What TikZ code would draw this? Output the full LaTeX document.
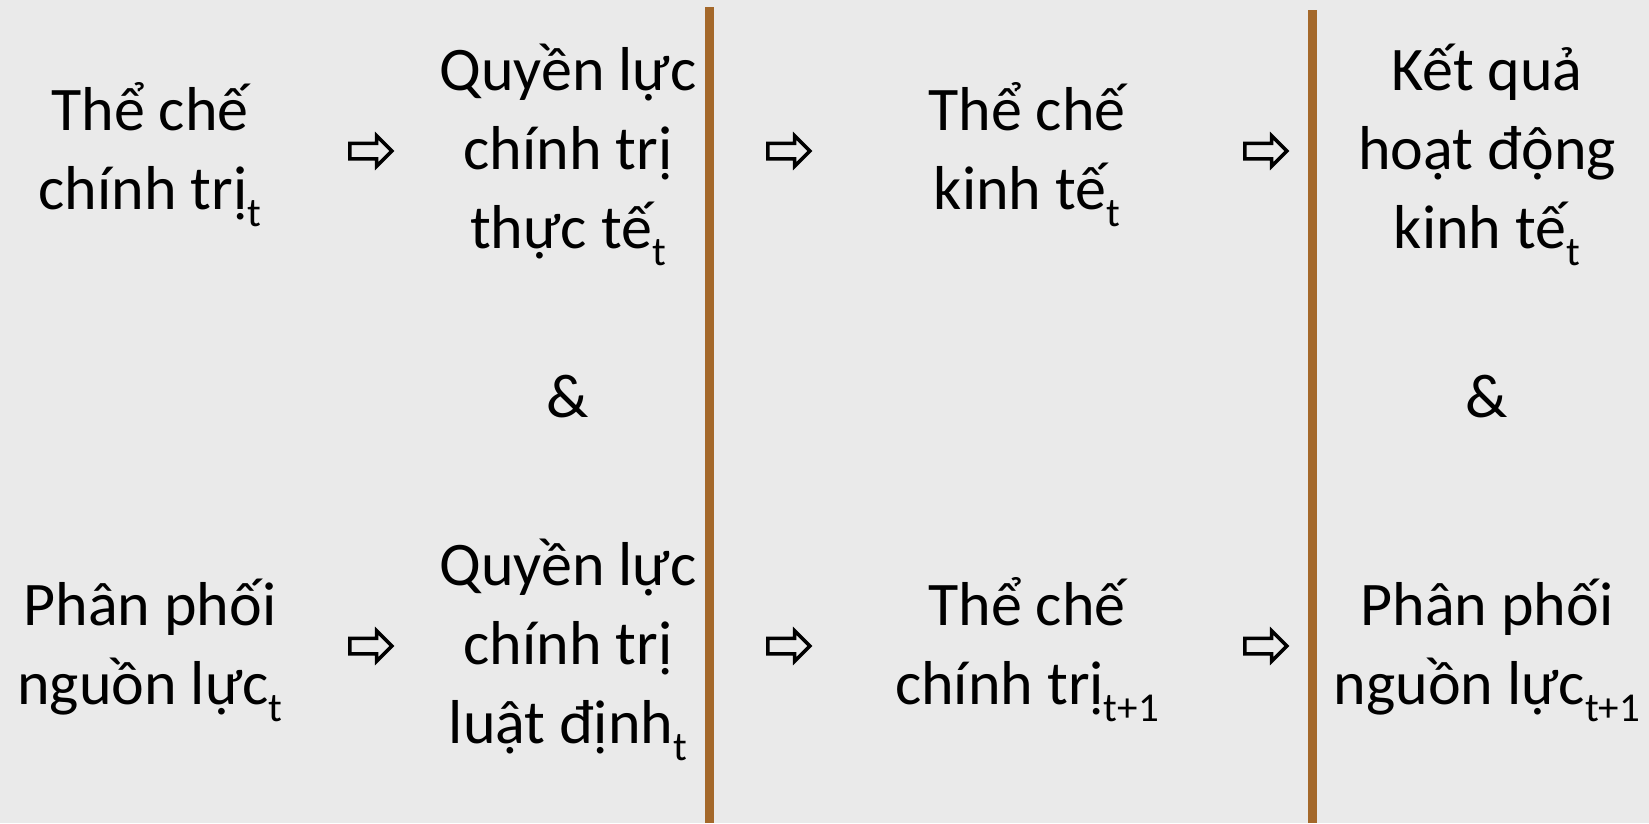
\documentclass[tikz,border=0pt]{standalone}
\usepackage{fontspec}
\setmainfont{Carlito}
\usetikzlibrary{positioning, shapes.arrows}
\definecolor{paper}{HTML}{EAEAEA}
\definecolor{barbrown}{HTML}{A4682A}
\newcommand{\tsub}[1]{\raisebox{-17pt}{\fontsize{41}{41}\selectfont #1}}
\tikzset{
    stage/.style={align=center, font=\fontsize{62}{79}\selectfont, inner sep=0pt},
    flow/.style={single arrow, draw, line width=3.5pt, minimum height=42pt,
        text height=6pt, text depth=6pt, text width=0pt,
        single arrow head extend=7.5pt, inner sep=0pt},
    divider/.style={draw=barbrown, line width=9pt}
}
\begin{document}
\begin{tikzpicture}[x=1pt, y=-1pt]
    \useasboundingbox (0,0) rectangle (1649,823);
    % Paper
    \fill[paper] (0,0) rectangle (1649,823);
    % Period dividers
    \draw[divider] (709.5,7) -- (709.5,823);
    \draw[divider] (1312.5,10) -- (1312.5,823);
    % Upper row
    \node[stage] (pol) at (150,155) {Thể chế\\chính trị\tsub{t}};
    \node[stage] (dfacto) at (568,155) {Quyền lực\\chính trị\\thực tế\tsub{t}};
    \node[stage] (econ) at (1027,155) {Thể chế\\kinh tế\tsub{t}};
    \node[stage] (perf) at (1487,155) {Kết quả\\hoạt động\\kinh tế\tsub{t}};
    % Lower row
    \node[stage] (res) at (150,650) {Phân phối\\nguồn lực\tsub{t}};
    \node[stage] (djure) at (568,650) {Quyền lực\\chính trị\\luật định\tsub{t}};
    \node[stage] (polnext) at (1027,650) {Thể chế\\chính trị\tsub{t+1}};
    \node[stage] (resnext) at (1487,650) {Phân phối\\nguồn lực\tsub{t+1}};
    % Joins
    \node[stage, anchor=base] (andA) at (568,417) {\&};
    \node[stage, anchor=base] (andB) at (1487,417) {\&};
    % Arrows
    \node[flow] (fA) at (367,151) {};
    \node[flow] (fB) at (785,151) {};
    \node[flow] (fC) at (1262,151) {};
    \node[flow] (fD) at (367,646) {};
    \node[flow] (fE) at (785,646) {};
    \node[flow] (fF) at (1262,646) {};
\end{tikzpicture}
\end{document}
